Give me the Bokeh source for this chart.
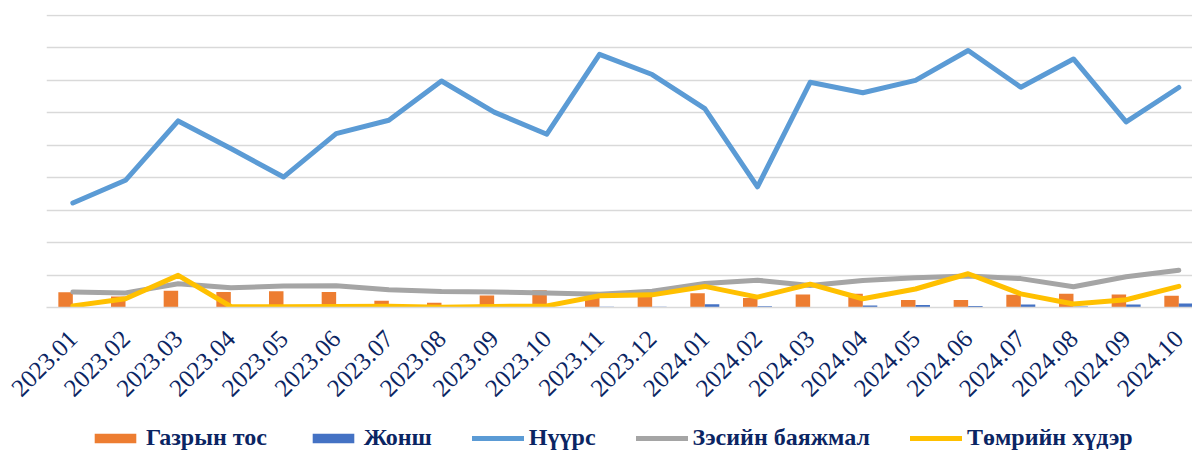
import math
import numpy as np
from bokeh.plotting import figure
from bokeh.layouts import column
from bokeh.models import Range1d, FixedTicker, Legend, LegendItem
from bokeh.embed import file_html
from bokeh.resources import INLINE

# ---------------- data ----------------
categories = ["2023.01", "2023.02", "2023.03", "2023.04", "2023.05", "2023.06",
              "2023.07", "2023.08", "2023.09", "2023.10", "2023.11", "2023.12",
              "2024.01", "2024.02", "2024.03", "2024.04", "2024.05", "2024.06",
              "2024.07", "2024.08", "2024.09", "2024.10"]

oil = [47, 34, 52, 48, 50, 48, 21, 15, 37, 53, 40, 38,
       44, 29, 40, 42, 23, 23, 39, 42, 40, 36]            # Газрын тос
fluorspar = [0, 0, 0, 0, 0, 0, 0, 0, 0, 0, 2, 2,
             10, 4, 1, 6, 8, 5, 9, 3, 9, 12]              # Жонш
coal = [322, 392, 575, 490, 402, 536, 577, 698, 602, 534, 780, 718,
        613, 372, 694, 662, 700, 792, 679, 766, 572, 678]  # Нүүрс
copper = [48, 45, 73, 61, 66, 67, 55, 49, 48, 45, 41, 50,
          74, 84, 68, 83, 92, 97, 89, 64, 95, 115]         # Зэсийн баяжмал
iron = [5, 27, 99, 3, 2, 3, 4, 1, 3, 5, 36, 39,
        65, 32, 72, 27, 57, 104, 42, 11, 24, 65]           # Төмрийн хүдэр

series_names = ["Газрын тос", "Жонш", "Нүүрс", "Зэсийн баяжмал", "Төмрийн хүдэр"]
grid_ticks = [0, 100, 200, 300, 400, 500, 600, 700, 800, 900]

# ---------------- styles ----------------
C_OIL = "#ED7D31"
C_FLUOR = "#4472C4"
C_COAL = "#5B9BD5"
C_COPPER = "#A5A5A5"
C_IRON = "#FFC000"
C_TEXT = "#0B2563"
GRID = "#D9D9D9"
LW = 5

x = np.arange(len(categories))
BAR_W = 0.275

# ---------------- main chart ----------------
p = figure(width=1192, height=410, output_backend="svg", toolbar_location=None,
           x_range=Range1d(-0.5, 21.26), y_range=Range1d(0, 903),
           min_border_left=46, min_border_right=0, min_border_top=14,
           min_border_bottom=103)
p.outline_line_color = None
p.background_fill_color = "white"
p.border_fill_color = "white"

p.vbar(x=x - BAR_W / 2, top=oil, width=BAR_W, fill_color=C_OIL, line_color=None)
p.vbar(x=x + BAR_W / 2, top=fluorspar, width=BAR_W, fill_color=C_FLUOR, line_color=None)
p.line(x, coal, line_color=C_COAL, line_width=LW, line_join="round", line_cap="round")
p.line(x, copper, line_color=C_COPPER, line_width=LW, line_join="round", line_cap="round")
p.line(x, iron, line_color=C_IRON, line_width=LW, line_join="round", line_cap="round")

p.yaxis.visible = False
p.ygrid.ticker = FixedTicker(ticks=grid_ticks)
p.ygrid.grid_line_color = GRID
p.ygrid.grid_line_width = 1.5
p.xgrid.grid_line_color = None

p.xaxis.ticker = FixedTicker(ticks=list(x))
p.xaxis.major_label_overrides = {int(i): c for i, c in zip(x, categories)}
p.xaxis.major_label_orientation = math.pi / 4
p.xaxis.major_label_text_font = "Liberation Serif"
p.xaxis.major_label_text_font_size = "25px"
p.xaxis.major_label_text_color = C_TEXT
p.xaxis.major_label_standoff = 27
p.xaxis.major_tick_line_color = None
p.xaxis.minor_tick_line_color = None
p.xaxis.major_tick_out = 0
p.xaxis.major_tick_in = 0
p.xaxis.axis_line_color = GRID
p.xaxis.axis_line_width = 1.5

# ---------------- legend strip ----------------
lg = figure(width=1192, height=42, output_backend="svg", toolbar_location=None,
            x_range=Range1d(0, 1), y_range=Range1d(0, 1),
            min_border_left=0, min_border_right=0, min_border_top=0, min_border_bottom=0)
lg.axis.visible = False
lg.grid.visible = False
lg.outline_line_color = None
lg.border_fill_color = "white"

# off-screen placeholder glyphs that only carry the legend styles
ph_x = [-5.0, -4.0]
ph_y = [-5.0, -5.0]
e_oil = lg.vbar(x=ph_x, top=ph_y, width=0.1, fill_color=C_OIL, line_color=None)
e_fl = lg.vbar(x=ph_x, top=ph_y, width=0.1, fill_color=C_FLUOR, line_color=None)
e_coal = lg.line(x=ph_x, y=ph_y, line_color=C_COAL, line_width=LW, line_cap="round")
e_cu = lg.line(x=ph_x, y=ph_y, line_color=C_COPPER, line_width=LW, line_cap="round")
e_fe = lg.line(x=ph_x, y=ph_y, line_color=C_IRON, line_width=LW, line_cap="round")

legend = Legend(items=[LegendItem(label=n, renderers=[r]) for n, r in
                       zip(series_names, [e_oil, e_fl, e_coal, e_cu, e_fe])],
                orientation="horizontal", location=(43, 1))
legend.glyph_width = 52
legend.glyph_height = 12
legend.label_standoff = 5
legend.spacing = 40
legend.padding = 2
legend.margin = 0
legend.border_line_color = None
legend.background_fill_alpha = 0
legend.label_text_font = "Liberation Serif"
legend.label_text_font_style = "bold"
legend.label_text_font_size = "24px"
legend.label_text_color = C_TEXT
lg.add_layout(legend, "center")

layout = column(p, lg, spacing=0)
open("out.html", "w").write(file_html(layout, INLINE))
